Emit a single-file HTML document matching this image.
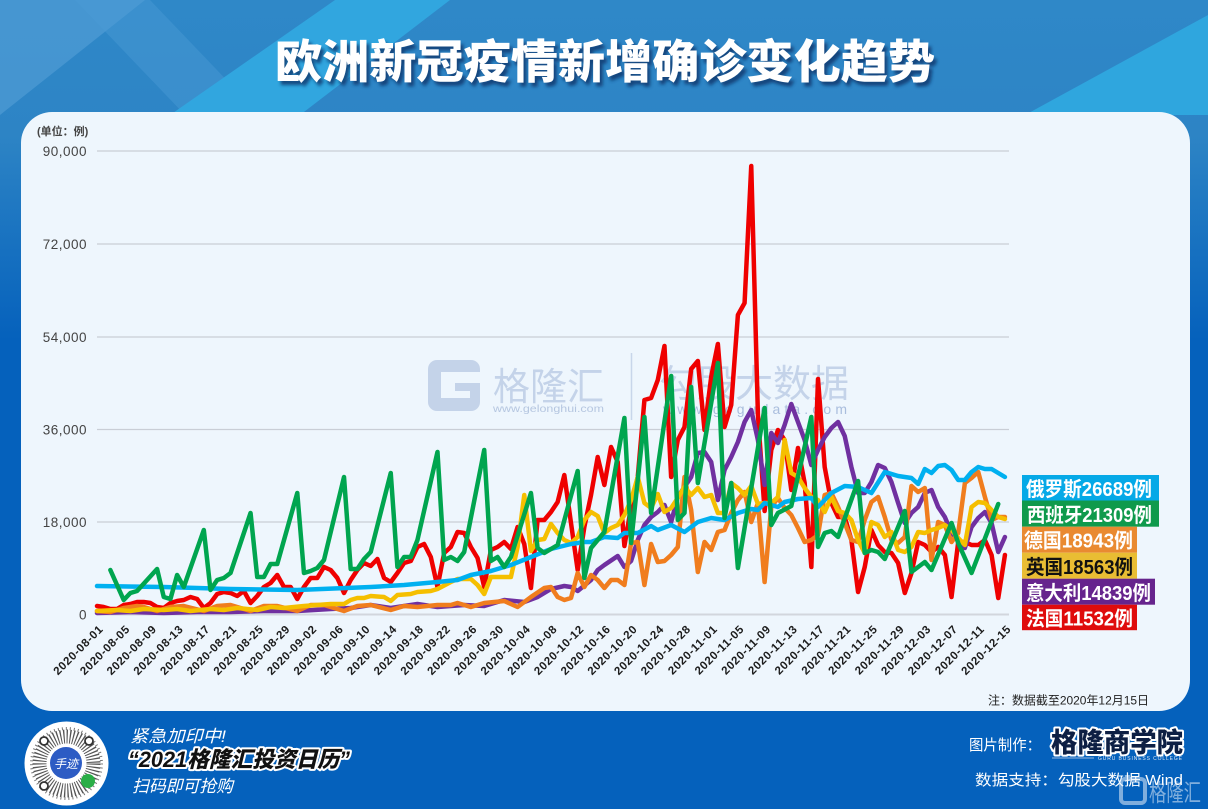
<!DOCTYPE html>
<html><head><meta charset="utf-8">
<style>
html,body{margin:0;padding:0;width:1208px;height:809px;overflow:hidden;background:#0561bc;}
svg{display:block;}
.cj{font-family:"Liberation Sans","Noto Sans CJK SC",sans-serif;}
</style></head>
<body>
<svg width="1208" height="809" viewBox="0 0 1208 809" xmlns="http://www.w3.org/2000/svg">
<defs>
<linearGradient id="topg" x1="0" y1="0" x2="0" y2="1">
<stop offset="0" stop-color="#2f88c8"/>
<stop offset="0.4" stop-color="#2d84c5"/>
<stop offset="1" stop-color="#0561bc"/>
</linearGradient>
<filter id="blur" x="-5%" y="-20%" width="110%" height="140%"><feGaussianBlur stdDeviation="1.6"/></filter>
</defs>

<!-- background -->
<rect x="0" y="0" width="1208" height="809" fill="#0561bc"/>
<rect x="0" y="0" width="1208" height="340" fill="url(#topg)"/>
<polygon points="0,0 145,0 0,115" fill="#5aa3d8" opacity="0.55"/>
<polygon points="75,0 150,0 260,115 185,115" fill="#4b9bd4" opacity="0.45"/>
<polygon points="335,0 450,0 300,115 170,115" fill="#31a6df"/>
<polygon points="1208,15 1208,115 1025,115" fill="#2fa6de"/>

<!-- title -->
<text x="608" y="82" text-anchor="middle" class="cj" font-size="46" font-weight="900" fill="#10346a" opacity="0.8" filter="url(#blur)" textLength="660" lengthAdjust="spacingAndGlyphs">欧洲新冠疫情新增确诊变化趋势</text>
<text x="605" y="78" text-anchor="middle" class="cj" font-size="46" font-weight="900" fill="#ffffff" textLength="660" lengthAdjust="spacingAndGlyphs">欧洲新冠疫情新增确诊变化趋势</text>

<!-- panel -->
<rect x="21" y="112" width="1169" height="599" rx="31" ry="31" fill="#eef6fd"/>

<!-- watermark -->
<g>
<rect x="428" y="360" width="52" height="51" rx="9" fill="#c4d3e9"/>
<rect x="441" y="372" width="39" height="26" fill="#eef6fd"/>
<rect x="455" y="383" width="25" height="8" fill="#c4d3e9"/>
<rect x="470" y="391" width="10" height="8" fill="#c4d3e9"/>
<text x="493" y="400" class="cj" font-size="38" fill="#c4d3e9" textLength="111" lengthAdjust="spacingAndGlyphs">格隆汇</text>
<text x="493" y="412" font-family="Liberation Sans,sans-serif" font-size="10" fill="#b5c6e0" textLength="111" lengthAdjust="spacingAndGlyphs">www.gelonghui.com</text>
<line x1="631.5" y1="353" x2="631.5" y2="420" stroke="#c8d6ea" stroke-width="1.5"/>
<text x="659" y="397" class="cj" font-size="38" fill="#c4d3e9" textLength="190" lengthAdjust="spacingAndGlyphs">勾股大数据</text>
<text x="663" y="414" font-family="Liberation Sans,sans-serif" font-size="14" fill="#a9bddd" textLength="184" lengthAdjust="spacing">www.gogudata.com</text>
</g>

<!-- gridlines -->
<g stroke="#c9ced6" stroke-width="1.3">
<line x1="97" y1="151" x2="1009" y2="151"/>
<line x1="97" y1="244" x2="1009" y2="244"/>
<line x1="97" y1="337" x2="1009" y2="337"/>
<line x1="97" y1="429.5" x2="1009" y2="429.5"/>
<line x1="97" y1="522" x2="1009" y2="522"/>
</g>
<line x1="97" y1="614.5" x2="1009" y2="614.5" stroke="#d2d6dd" stroke-width="2"/>

<!-- y labels -->
<g font-family="Liberation Sans,sans-serif" font-size="13.5" fill="#444" text-anchor="end" letter-spacing="0.5">
<text x="87" y="156">90,000</text>
<text x="87" y="249">72,000</text>
<text x="87" y="342">54,000</text>
<text x="87" y="434.5">36,000</text>
<text x="87" y="527">18,000</text>
<text x="87" y="619.5">0</text>
</g>
<text x="37" y="135" class="cj" font-size="11" font-weight="bold" fill="#444">(单位：例)</text>

<!-- series -->
<g transform="translate(97,0) scale(6.676,1)" fill="none" stroke-width="4.5" stroke-linejoin="round" stroke-linecap="round">
<polyline vector-effect="non-scaling-stroke" stroke="#ef0000" points="0,606 1,607 2,609 3,609 4,605 5,604 6,602 7,602 8,603 9,607 10,608 11,603 12,601 13,600 14,597 15,599 16,608 17,603 18,594 19,592 20,593 21,596 22,591 23,603 24,596 25,587 26,583 27,575 28,587 29,587 30,599 31,587 32,578 33,578 34,567 35,570 36,578 37,593 38,580 39,570 40,563 41,566 42,559 43,578 44,582 45,573 46,563 47,561 48,547 49,544 50,557 51,587 52,553 53,547 54,532 55,533 56,547 57,558 58,587 59,550 60,547 61,542 62,549 63,527 64,544 65,588 66,520 67,520 68,512 69,502 70,475 71,523 72,570 73,527 74,495 75,457 76,485 77,447 78,462 79,546 80,507 81,477 82,400 83,398 84,380 85,346 86,477 87,440 88,427 89,369 90,361 91,430 92,377 93,344 94,427 95,405 96,315 97,303 98,166 99,415 100,511 101,450 102,430 103,440 104,490 105,448 106,483 107,567 108,379 109,467 110,503 111,517 112,517 113,540 114,592 115,567 116,530 117,545 118,552 119,553 120,563 121,593 122,573 123,542 124,545 125,552 126,547 127,555 128,597 129,542 130,542 131,545 132,545 133,540 134,555 135,598 136,555"/>
<polyline vector-effect="non-scaling-stroke" stroke="#7030a0" points="0,613 5,612 10,613 15,612 20,612 25,611 30,611 35,609 38,608 41,605 44,608 48,604 51,607 55,605 58,606 61,600 64,602 66,597 68,589 70,586 71,587 72,591 74,580 75,570 76,565 78,556 79,567 80,561 81,540 82,525 83,517 84,512 85,505 86,522 87,497 88,487 89,477 90,453 91,452 92,462 93,500 94,470 95,457 96,442 97,422 98,410 99,440 100,485 101,433 102,443 103,425 104,404 105,422 106,440 107,465 108,450 109,437 110,428 111,422 112,436 113,467 114,493 115,493 116,482 117,465 118,468 119,482 120,503 121,523 122,513 123,507 124,493 125,490 126,507 127,517 128,533 129,540 130,548 131,527 132,518 133,512 134,523 135,552 136,537"/>
<polyline vector-effect="non-scaling-stroke" stroke="#f07d1e" points="0,611 2,612 4,608 6,606 7,607 9,611 11,607 13,606 16,611 18,606 20,605 23,611 25,606 27,606 30,611 32,605 34,605 37,611 39,606 41,605 44,610 46,606 48,607 51,605 53,605 54,603 56,607 58,603 61,601 63,607 65,597 67,588 68,587 69,597 70,600 71,598 72,573 73,587 74,575 75,580 76,588 77,580 78,580 79,585 80,543 81,542 82,585 83,544 84,562 85,561 86,555 87,547 88,477 89,510 90,572 91,542 92,550 93,532 94,530 95,513 96,500 97,492 98,522 99,503 100,582 101,507 102,498 103,508 104,515 105,528 106,542 107,540 108,535 109,495 110,493 111,507 112,523 113,540 114,542 115,520 116,502 117,497 118,517 119,540 120,543 121,537 122,486 123,492 124,488 125,560 126,522 127,525 128,542 129,533 130,483 131,478 132,472 133,497 134,520 135,517 136,517"/>
<polyline vector-effect="non-scaling-stroke" stroke="#f5bf00" points="0,611 3,610 5,611 7,609 10,610 12,609 14,611 17,609 19,610 21,608 24,610 26,607 28,608 31,606 33,605 35,604 37,604 38,600 39,598 40,598 41,596 43,597 44,601 45,595 47,594 48,592 50,591 51,589 53,582 54,579 56,579 57,585 58,594 59,577 62,577 63,547 64,495 65,551 66,540 67,539 68,524 69,533 70,540 71,543 72,537 73,520 74,512 75,516 76,533 77,528 78,525 79,515 80,500 81,477 82,503 83,508 84,494 85,512 86,508 87,498 88,487 89,495 90,488 91,497 92,495 93,513 94,513 95,483 96,488 97,495 98,486 99,504 100,503 101,503 102,497 103,440 104,473 105,477 106,488 107,497 108,500 109,512 110,497 111,511 112,513 113,520 114,540 115,553 116,522 117,525 118,537 119,532 120,550 121,552 122,547 123,532 124,533 125,530 126,528 127,525 128,530 129,538 130,545 131,507 132,502 133,503 134,510 135,517 136,519"/>
<polyline vector-effect="non-scaling-stroke" stroke="#00b0f0" points="0,586 10,587 20,589 30,590 41,587 46,585 51,582 54,580 56,575 59,571 62,565 65,557 68,549 71,544 73,542 74,542 76,537 78,538 79,533 81,533 83,526 84,530 86,525 88,532 90,522 92,518 94,520 96,513 98,509 99,510 100,503 101,505 102,507 103,502 105,499 107,498 108,507 110,493 112,486 114,487 116,493 118,472 120,476 122,478 123,484 124,469 125,473 126,466 127,465 128,470 129,480 130,480 131,472 132,467 133,469 134,469 136,477"/>
<polyline vector-effect="non-scaling-stroke" stroke="#00a54f" points="2,570 4,600 5,593 6,591 9,569 10,597 11,599 12,575 13,587 16,530 17,590 18,580 19,578 20,573 23,513 24,577 25,577 26,564 27,564 30,493 31,573 32,571 33,568 34,560 37,477 38,569 39,569 40,559 41,552 44,473 45,567 46,557 47,557 48,540 51,452 52,560 53,557 54,561 55,552 58,450 59,561 60,557 61,567 62,557 65,493 66,548 67,553 68,549 69,545 72,471 73,578 74,548 75,540 76,532 79,418 80,543 82,417 83,513 86,376 87,520 88,513 89,387 90,483 93,363 94,518 95,483 96,568 100,408 101,525 102,513 104,506 107,417 108,547 109,533 110,531 111,537 114,481 115,553 116,550 117,552 118,559 121,511 122,572 124,562 125,570 128,523 129,543 131,573 135,504"/>
</g>

<!-- x labels -->
<g font-family="Liberation Sans,sans-serif" font-size="11.5" font-weight="bold" fill="#1c1c1c" text-anchor="end" letter-spacing="0.6">
<text x="101" y="627" dy="4" transform="rotate(-45 101 627)">2020-08-01</text>
<text x="127.7" y="627" dy="4" transform="rotate(-45 127.7 627)">2020-08-05</text>
<text x="154.4" y="627" dy="4" transform="rotate(-45 154.4 627)">2020-08-09</text>
<text x="181.1" y="627" dy="4" transform="rotate(-45 181.1 627)">2020-08-13</text>
<text x="207.8" y="627" dy="4" transform="rotate(-45 207.8 627)">2020-08-17</text>
<text x="234.5" y="627" dy="4" transform="rotate(-45 234.5 627)">2020-08-21</text>
<text x="261.2" y="627" dy="4" transform="rotate(-45 261.2 627)">2020-08-25</text>
<text x="287.9" y="627" dy="4" transform="rotate(-45 287.9 627)">2020-08-29</text>
<text x="314.6" y="627" dy="4" transform="rotate(-45 314.6 627)">2020-09-02</text>
<text x="341.3" y="627" dy="4" transform="rotate(-45 341.3 627)">2020-09-06</text>
<text x="368" y="627" dy="4" transform="rotate(-45 368 627)">2020-09-10</text>
<text x="394.7" y="627" dy="4" transform="rotate(-45 394.7 627)">2020-09-14</text>
<text x="421.4" y="627" dy="4" transform="rotate(-45 421.4 627)">2020-09-18</text>
<text x="448.2" y="627" dy="4" transform="rotate(-45 448.2 627)">2020-09-22</text>
<text x="474.9" y="627" dy="4" transform="rotate(-45 474.9 627)">2020-09-26</text>
<text x="501.6" y="627" dy="4" transform="rotate(-45 501.6 627)">2020-09-30</text>
<text x="528.3" y="627" dy="4" transform="rotate(-45 528.3 627)">2020-10-04</text>
<text x="555" y="627" dy="4" transform="rotate(-45 555 627)">2020-10-08</text>
<text x="581.7" y="627" dy="4" transform="rotate(-45 581.7 627)">2020-10-12</text>
<text x="608.4" y="627" dy="4" transform="rotate(-45 608.4 627)">2020-10-16</text>
<text x="635.1" y="627" dy="4" transform="rotate(-45 635.1 627)">2020-10-20</text>
<text x="661.8" y="627" dy="4" transform="rotate(-45 661.8 627)">2020-10-24</text>
<text x="688.5" y="627" dy="4" transform="rotate(-45 688.5 627)">2020-10-28</text>
<text x="715.2" y="627" dy="4" transform="rotate(-45 715.2 627)">2020-11-01</text>
<text x="741.9" y="627" dy="4" transform="rotate(-45 741.9 627)">2020-11-05</text>
<text x="768.6" y="627" dy="4" transform="rotate(-45 768.6 627)">2020-11-09</text>
<text x="795.3" y="627" dy="4" transform="rotate(-45 795.3 627)">2020-11-13</text>
<text x="822" y="627" dy="4" transform="rotate(-45 822 627)">2020-11-17</text>
<text x="848.7" y="627" dy="4" transform="rotate(-45 848.7 627)">2020-11-21</text>
<text x="875.4" y="627" dy="4" transform="rotate(-45 875.4 627)">2020-11-25</text>
<text x="902.1" y="627" dy="4" transform="rotate(-45 902.1 627)">2020-11-29</text>
<text x="928.8" y="627" dy="4" transform="rotate(-45 928.8 627)">2020-12-03</text>
<text x="955.5" y="627" dy="4" transform="rotate(-45 955.5 627)">2020-12-07</text>
<text x="982.2" y="627" dy="4" transform="rotate(-45 982.2 627)">2020-12-11</text>
<text x="1008.9" y="627" dy="4" transform="rotate(-45 1008.9 627)">2020-12-15</text>
</g>

<!-- legend -->
<g class="cj" font-size="20" font-weight="bold" lengthAdjust="spacingAndGlyphs">
<rect x="1022" y="475" width="137" height="25.5" fill="#05a9e7"/>
<text x="1026" y="496" fill="#fff" textLength="126" lengthAdjust="spacingAndGlyphs">俄罗斯26689例</text>
<rect x="1022" y="500.5" width="137" height="26.2" fill="#0f9a4c"/>
<text x="1027" y="522" fill="#fff" textLength="125" lengthAdjust="spacingAndGlyphs">西班牙21309例</text>
<rect x="1022" y="526.7" width="115" height="26" fill="#e98a31"/>
<text x="1024" y="547.5" fill="#fff" textLength="109" lengthAdjust="spacingAndGlyphs">德国18943例</text>
<rect x="1022" y="552.7" width="115" height="26" fill="#e9bd33"/>
<text x="1026" y="574" fill="#111" textLength="107" lengthAdjust="spacingAndGlyphs">英国18563例</text>
<rect x="1022" y="578.7" width="133" height="26" fill="#66248d"/>
<text x="1026" y="600" fill="#fff" textLength="125" lengthAdjust="spacingAndGlyphs">意大利14839例</text>
<rect x="1022" y="604.7" width="115" height="25.5" fill="#df0c0c"/>
<text x="1026" y="625.5" fill="#fff" textLength="107" lengthAdjust="spacingAndGlyphs">法国11532例</text>
</g>

<!-- note -->
<text x="988" y="704.5" class="cj" font-size="12" fill="#222" textLength="161" lengthAdjust="spacingAndGlyphs">注：数据截至2020年12月15日</text>

<!-- footer left -->
<circle cx="66.5" cy="763.5" r="42" fill="#ffffff"/>
<circle cx="66.5" cy="763.5" r="27" fill="none" stroke="#555" stroke-width="14" stroke-dasharray="1.2 1.9"/>
<circle cx="66.5" cy="763.5" r="35" fill="none" stroke="#777" stroke-width="3" stroke-dasharray="1 3"/>
<circle cx="44" cy="741" r="4" fill="#fff" stroke="#333" stroke-width="1.8"/>
<circle cx="89" cy="741" r="4" fill="#fff" stroke="#333" stroke-width="1.8"/>
<circle cx="44" cy="786" r="4" fill="#fff" stroke="#333" stroke-width="1.8"/>
<circle cx="66" cy="763" r="16" fill="#2d5cc4"/>
<text x="66" y="768" text-anchor="middle" class="cj" font-size="12" fill="#fff" font-style="italic">手迹</text>
<circle cx="88" cy="781" r="7" fill="#2aae47"/>

<g class="cj" fill="#fff" font-style="italic">
<text x="130" y="742" font-size="17" textLength="96" lengthAdjust="spacingAndGlyphs">紧急加印中!</text>
<text x="128" y="767" font-size="22" font-weight="900" fill="#111" stroke="#fff" stroke-width="4" paint-order="stroke" stroke-linejoin="round" textLength="222" lengthAdjust="spacingAndGlyphs">“2021格隆汇投资日历”</text>
<text x="132" y="792" font-size="17" textLength="101" lengthAdjust="spacingAndGlyphs">扫码即可抢购</text>
</g>

<!-- footer right -->
<g class="cj" fill="#fff">
<text x="969" y="750" font-size="15" textLength="72" lengthAdjust="spacingAndGlyphs">图片制作：</text>
<text x="1051" y="752" font-size="27" font-weight="900" fill="#0d1f44" stroke="#fff" stroke-width="4" paint-order="stroke" stroke-linejoin="round" textLength="132" lengthAdjust="spacingAndGlyphs">格隆商学院</text>
<line x1="1052" y1="758" x2="1094" y2="758" stroke="#c8d6ea" stroke-width="0.8"/>
<text x="1098" y="760" font-size="5" font-family="Liberation Sans,sans-serif" fill="#dfe8f5" textLength="84" lengthAdjust="spacing">GURU BUSINESS COLLEGE</text>
<text x="975" y="785" font-size="15" textLength="208" lengthAdjust="spacingAndGlyphs">数据支持：勾股大数据 Wind</text>
</g>
<g opacity="0.55">
<rect x="1121" y="779" width="24" height="24" rx="4" fill="none" stroke="#e6eef8" stroke-width="4"/>
<text x="1149" y="801" class="cj" font-size="24" fill="#e6eef8" textLength="52" lengthAdjust="spacingAndGlyphs">格隆汇</text>
</g>
</svg>
</body></html>
